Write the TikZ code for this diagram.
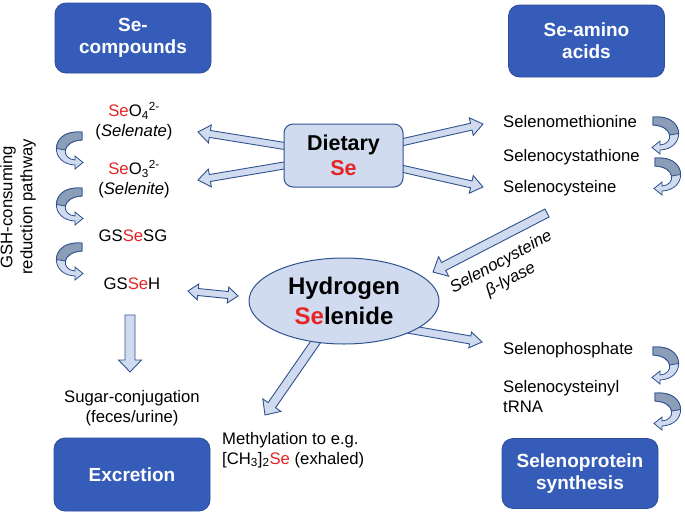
\documentclass[tikz,border=0pt]{standalone}
\usepackage{fontspec}
\setmainfont{Liberation Sans}
\usetikzlibrary{shapes.geometric,calc,backgrounds}

\definecolor{boxblue}{HTML}{355CB8}
\definecolor{boxedge}{HTML}{2C4D9C}
\definecolor{arrfill}{HTML}{D0DBEF}
\definecolor{arredge}{HTML}{2F528F}
\definecolor{arrgray}{HTML}{8C9DB8}
\definecolor{sered}{HTML}{E42526}

\newcommand{\Se}{\textcolor{sered}{Se}}
\newcommand{\txtsize}{\fontsize{16.7}{20}\selectfont}

% block arrow: start, tip, half shaft, half head
\newcommand{\blockarr}[4]{%
  \path let \p1=($#2-#1$) in \pgfextra{%
    \pgfmathsetmacro\baang{atan2(\y1,\x1)}\global\let\baang\baang
    \pgfmathsetmacro\balen{veclen(\x1,\y1)}\global\let\balen\balen};
  \begin{scope}[shift={#1}, rotate=\baang]
    \draw[barrow] (0,#3) -- (\balen-12,#3) -- (\balen-12,#4) -- (\balen,0)
      -- (\balen-12,-#4) -- (\balen-12,-#3) -- (0,-#3) -- cycle;
  \end{scope}}
% same, heads at both ends
\newcommand{\dblarr}[4]{%
  \path let \p1=($#2-#1$) in \pgfextra{%
    \pgfmathsetmacro\baang{atan2(\y1,\x1)}\global\let\baang\baang
    \pgfmathsetmacro\balen{veclen(\x1,\y1)}\global\let\balen\balen};
  \begin{scope}[shift={#1}, rotate=\baang]
    \draw[barrow] (0,0) -- (10,#4) -- (10,#3) -- (\balen-10,#3) -- (\balen-10,#4)
      -- (\balen,0) -- (\balen-10,-#4) -- (\balen-10,-#3) -- (10,-#3) -- (10,-#4) -- cycle;
  \end{scope}}

\tikzset{
  darkbox/.style={rounded corners=11pt, fill=boxblue, draw=boxedge, line width=0.8pt,
    text=white, font=\bfseries\fontsize{19}{22}\selectfont, align=center,
    minimum width=156pt, minimum height=70pt},
  dietbox/.style={rounded corners=9pt, fill=arrfill, draw=arredge, line width=1pt,
    minimum width=119pt, minimum height=63pt, align=center,
    font=\bfseries\fontsize{21.5}{25}\selectfont},
  hsell/.style={ellipse, fill=arrfill, draw=arredge, line width=1pt, inner sep=0pt,
    minimum width=190pt, minimum height=86pt, align=center,
    font=\bfseries\fontsize{24}{30}\selectfont},
  cmpd/.style={inner sep=0pt, align=center, font=\txtsize},
  barrow/.style={fill=arrfill, draw=arredge, line width=0.9pt},
  curvarr/.pic={
    \filldraw[fill=arrfill, draw=arredge, line width=0.8pt] (0,0) -- (-6,0)
      .. controls (-32,1) and (-32,32) .. (-7,33) -- (-7,37) -- (1,30.5) -- (-7,24)
      -- (-7,28) .. controls (-21,27) and (-21,9) .. (0,8) -- cycle;
    \filldraw[fill=arrgray, draw=arredge, line width=0.8pt] (0,0) -- (-6,0)
      .. controls (-19,0.5) and (-25.5,8.5) .. (-25.6,16.5) -- (-16.6,18)
      .. controls (-15.75,13.25) and (-10.5,8.5) .. (0,8) -- cycle;
  }
}

\begin{document}
\begin{tikzpicture}[x=1pt, y=-1pt]
  \useasboundingbox (0,0) rectangle (685,512);

  % blue title boxes
  \node[darkbox] (secomp) at (133,38) {Se-\\compounds};
  \node[darkbox, minimum height=72pt] (seamino) at (586.5,41) {Se-amino\\acids};
  \node[darkbox, minimum height=73pt] (excr) at (132,474.5) {Excretion};
  \node[darkbox] (selprot) at (580,473.5) {Selenoprotein\\synthesis};

  % centre
  \node[dietbox] (diet) at (343.5,155.5) {Dietary\\\textcolor{sered}{Se}};
  \node[hsell] (hs) at (344,301) {Hydrogen\\\Se lenide};

  % left column
  \node[cmpd] (selenate) at (134,121.5) {\Se O\textsubscript{4}\textsuperscript{2-}\\(\textit{Selenate})};
  \node[cmpd] (selenite) at (134,179) {\Se O\textsubscript{3}\textsuperscript{2-}\\(\textit{Selenite})};
  \node[cmpd] (gssesg) at (133,236) {GS\Se SG};
  \node[cmpd] (gsseh) at (132,284) {GS\Se H};
  \node[cmpd, rotate=90] (gshpath) at (18,207) {GSH-consuming\\reduction pathway};
  \node[cmpd] (sugar) at (132,408) {Sugar-conjugation\\(feces/urine)};
  \node[cmpd, anchor=west, align=left] (methyl) at (222,450)
    {Methylation to e.g.\\{}[CH\textsubscript{3}]\textsubscript{2}\Se{} (exhaled)};

  % right column
  \node[cmpd, anchor=west] (semet) at (503,122) {Selenomethionine};
  \node[cmpd, anchor=west] (secysta) at (503,157) {Selenocystathione};
  \node[cmpd, anchor=west] (secys) at (503,188) {Selenocysteine};
  \node[cmpd, anchor=west] (sephos) at (503,350) {Selenophosphate};
  \node[cmpd, anchor=west, align=left] (setrna) at (503,397) {Selenocysteinyl\\tRNA};
  \node[cmpd, font=\itshape\txtsize, rotate=28.6] (lyase) at (506,271) {Selenocysteine\\β-lyase};

  % arrow ends
  \coordinate (t-ul) at (198,132);
  \coordinate (t-ll) at (198,180);
  \coordinate (t-ur) at (483,124);
  \coordinate (t-lr) at (483,187);
  \coordinate (hs-s) at ($(hs.center)+(0,17)$);
  \coordinate (phos-t) at (482,342);
  \coordinate (methyl-t) at (265,415);
  \coordinate (lyase-s) at (547,213);
  \coordinate (lyase-t) at (433,272);
  \coordinate (gsseh-r) at (188,291);
  \coordinate (hs-l) at (238,296);
  \coordinate (sugar-s) at (130,315);
  \coordinate (sugar-t) at (130,372);

  \begin{scope}[on background layer]
    \blockarr{(diet.center)}{(t-ul)}{3.5}{9}
    \blockarr{(diet.center)}{(t-ll)}{3.5}{9}
    \blockarr{(diet.center)}{(t-ur)}{3.5}{9}
    \blockarr{(diet.center)}{(t-lr)}{3.5}{9}
    \blockarr{(hs-s)}{(phos-t)}{4}{8}
    \blockarr{(hs.center)}{(methyl-t)}{4.5}{11}
  \end{scope}
  \blockarr{(lyase-s)}{(lyase-t)}{4.5}{11}
  \blockarr{(sugar-s)}{(sugar-t)}{5}{11.5}
  \dblarr{(gsseh-r)}{(hs-l)}{3.5}{8}

  % curved step arrows
  \pic at (82,132) {curvarr};
  \pic at (82,188) {curvarr};
  \pic at (82,243) {curvarr};
  \pic[xscale=-1] at (653,117) {curvarr};
  \pic[xscale=-1] at (655,158) {curvarr};
  \pic[xscale=-1] at (653,347) {curvarr};
  \pic[xscale=-1] at (655,393) {curvarr};
\end{tikzpicture}
\end{document}
